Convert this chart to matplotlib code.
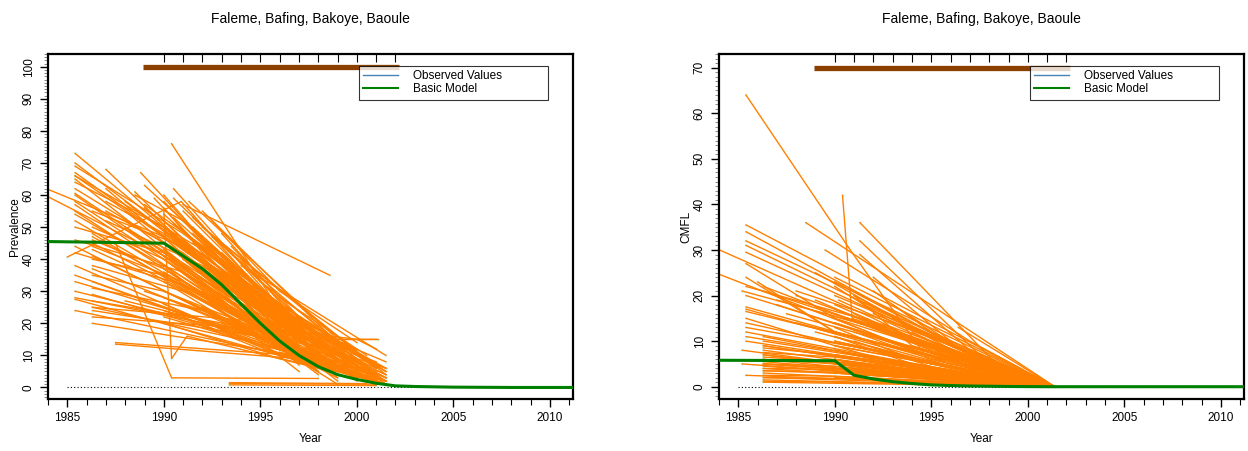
import matplotlib
matplotlib.use("Agg")
import matplotlib.pyplot as plt
from matplotlib.ticker import MultipleLocator, NullLocator

plt.rcParams['font.family'] = ['Liberation Sans', 'DejaVu Sans']

title = "Faleme, Bafing, Bakoye, Baoule"

# prevalence trajectories per village: (years, values)
prev_years = [
    [1983.5, 1990], [1983.5, 1991],
    [1985.4, 1995], [1985.4, 1996], [1985.4, 1994.5], [1985.4, 1997], [1985.4, 1996],
    [1985.4, 1993], [1985.4, 1998], [1985.4, 1996.5], [1985.4, 1997], [1985.4, 1995],
    [1985.4, 1999], [1985.0, 1990.9, 1998], [1985.4, 1997], [1985.4, 1996], [1985.4, 1999],
    [1985.4, 1999.5],
    [1986.3, 1998], [1986.3, 1996], [1986.3, 1997], [1986.3, 1994], [1986.3, 1999],
    [1986.3, 1998], [1986.3, 2000], [1986.3, 1999], [1986.3, 1997], [1986.3, 1998],
    [1986.3, 1999],
    [1987, 1995], [1987, 1996], [1987.5, 1990.4, 1998], [1987.5, 1998], [1987.5, 1999],
    [1988.8, 1996], [1988.5, 1997], [1989, 1995], [1989.5, 1996.5], [1988, 1998],
    [1990, 1997], [1990, 1999], [1990, 1990.4, 1991.2, 1998], [1990, 1996], [1990, 1998],
    [1990, 1997], [1990, 1999], [1990, 1996], [1990, 1998], [1990, 1997], [1990, 1999],
    [1990.4, 1996, 1998], [1990.5, 1997.5], [1990.5, 1999], [1991, 1998.6], [1991, 1996],
    [1991, 2000], [1991.3, 1999, 2001], [1991.5, 2000], [1991.5, 1998], [1991.5, 2001],
    [1992, 2000], [1992, 2001.5], [1992, 1999], [1992, 2000], [1992.5, 1999.5],
    [1993, 2001], [1993, 2001.5], [1993.5, 2000], [1994, 2001.5], [1994, 2001],
    [1993.4, 2001.5], [1993.4, 2001], [1993.4, 2000.5],
    [1995, 2001.5], [1995, 2000], [1996, 2001.5], [1998.5, 2001.1], [1996, 2000, 2001],
    [1996, 2001.5],
    [1986.3, 1996], [1986.3, 1997.5], [1985.4, 1998], [1985.4, 1999], [1988, 1997],
    [1990, 1995, 2000], [1990, 1994, 2001], [1991, 1995, 2001.5], [1991, 1997, 2001],
    [1992, 1996, 2001.5], [1990, 1993, 1997], [1989, 1993, 1998], [1990, 1996, 2001.5],
    [1990.5, 1994, 1999], [1991.5, 1995, 2000.5], [1992.5, 1997, 2001.5],
    [1993, 1997, 2001], [1994, 1998, 2001.5], [1990, 1992, 1996],
    [1985.4, 1990, 1997], [1985.4, 1990, 1998], [1985.4, 1990, 1999], [1985.4, 1990, 1996],
    [1985.4, 1991, 1998], [1985.4, 1991, 2000], [1986.3, 1990, 1997], [1986.3, 1990, 1998],
    [1986.3, 1991, 1999], [1986.3, 1990, 1996], [1986.3, 1991, 1997], [1986.3, 1990, 2000],
    [1986.3, 1992, 1998], [1987, 1991, 1997], [1987, 1992, 1999], [1988, 1991, 1998],
    [1988, 1992, 1997], [1989, 1992, 1999], [1990, 1993, 1998], [1990, 1994, 2000],
    [1990, 1993, 1997], [1990, 1994, 1999], [1990, 1992, 1998], [1990, 1993, 2001],
    [1990, 1995, 2000], [1990, 1994, 1998], [1990.5, 1994, 2001], [1990.5, 1995, 2001.5],
    [1990.5, 1993, 1999], [1991, 1994, 1999], [1991, 1995, 2000.5], [1991, 1993, 1998],
    [1991, 1996, 2001], [1991, 1994, 1998.5], [1991.5, 1995, 2000], [1991.5, 1994, 1999.5],
    [1991.5, 1996, 2001.5], [1992, 1995, 1999], [1992, 1996, 2000], [1992, 1995, 2001],
    [1992, 1997, 2001.5], [1992.5, 1996, 2000], [1992.5, 1995, 1998], [1993, 1996, 2000.5],
    [1993, 1997, 2001.5], [1993, 1996, 1999], [1993.5, 1997, 2001], [1994, 1997, 2000.5],
    [1994, 1997, 2001.5], [1994.5, 1998, 2001.5], [1995, 1998, 2001], [1995, 1998, 2001.5],
    [1995.5, 1998.5, 2001.5], [1996, 1999, 2001.5], [1996, 1999, 2001], [1997, 2000, 2001.5],
    [1997, 1999.5, 2001.5], [1990, 1996, 2001.5], [1990, 1995, 2001], [1990, 1994, 2000],
    [1989, 1994, 2001], [1988, 1994, 2000], [1986.3, 1994, 2001], [1985.4, 1993, 2000],
    [1990, 1996, 2001.5], [1991, 1997, 2001.5], [1992, 1998, 2001.5], [1993, 1998, 2001.5],
    [1994, 1999, 2001.5], [1995, 1999, 2001.5], [1996, 2000, 2001.5],
    [1985.4, 1991, 1997], [1985.4, 1990, 1995], [1986.3, 1991, 1996], [1987, 1990, 1995],
    [1988.5, 1991, 1996], [1985.4, 1992, 1998],
]
prev_values = [
    [63, 47], [61, 38],
    [73, 25], [70, 22], [67, 28], [66, 18], [65, 15],
    [60.5, 30], [60, 8], [57, 12], [55, 10], [52, 18],
    [44, 3], [40.7, 58, 10], [38, 8], [33, 14], [27.5, 5],
    [24, 6],
    [48, 5], [47, 15], [45, 12], [43, 22], [41, 4],
    [37, 9], [33, 3], [29, 7], [27, 16], [24, 13],
    [20, 8],
    [68, 22], [62, 16], [45, 3, 2.8], [14, 9.5], [13.5, 8],
    [67, 20], [61, 10], [63, 30], [59, 14], [55, 6],
    [60, 12], [58, 3], [55, 9, 16, 6], [52, 18], [50, 5],
    [47, 7], [45, 2], [43, 12], [40, 4], [38, 5], [35, 1],
    [76, 24, 8], [62, 15], [59, 10], [57, 35], [55, 25],
    [52, 5], [58, 15, 15], [50, 3], [48, 12], [45, 2],
    [55, 8], [50, 4], [42, 5], [38, 2], [47, 11],
    [45, 6], [40, 1], [35, 7], [38, 10], [30, 3],
    [1.2, 1.0], [0.8, 0.6], [1.5, 1.2],
    [30, 5], [25, 12], [22, 8], [15, 15], [18, 15, 12],
    [20, 3],
    [25, 20], [22, 17], [30, 11], [35, 6], [50, 9],
    [48, 25, 4], [42, 24, 2], [46, 28, 6], [40, 18, 3],
    [44, 26, 5], [50, 35, 15], [57, 40, 12], [36, 14, 1],
    [53, 34, 9], [46, 29, 7], [41, 20, 2],
    [39, 16, 4], [33, 13, 2], [56, 42, 20],
    [62, 45, 12], [58, 40, 8], [54, 38, 5], [50, 42, 18],
    [46, 36, 9], [42, 32, 4], [50, 40, 10], [46, 37, 7],
    [44, 33, 6], [40, 35, 16], [38, 30, 11], [35, 30, 3],
    [31, 24, 8], [55, 42, 14], [52, 38, 6], [58, 44, 10],
    [50, 35, 13], [56, 40, 8], [54, 38, 9], [49, 30, 5],
    [45, 33, 15], [41, 26, 7], [37, 29, 6], [33, 22, 2],
    [30, 18, 4], [28, 18, 8], [51, 34, 6], [46, 25, 3],
    [43, 31, 9], [49, 33, 11], [44, 27, 5], [40, 30, 12],
    [36, 18, 3], [32, 22, 10], [53, 33, 10], [42, 28, 8],
    [38, 20, 4], [46, 30, 12], [41, 24, 9], [35, 22, 6],
    [30, 14, 2], [52, 30, 14], [39, 27, 13], [48, 28, 10],
    [42, 20, 5], [36, 21, 10], [44, 22, 7], [40, 20, 9],
    [33, 17, 3], [36, 16, 6], [28, 14, 8], [24, 10, 2],
    [26, 12, 4], [18, 9, 3], [14, 7, 5], [12, 6, 2],
    [16, 10, 6], [26, 10, 1], [24, 12, 3], [22, 15, 5],
    [30, 20, 2], [27, 18, 6], [25, 15, 4], [28, 19, 7],
    [20, 9, 2], [22, 8, 1], [25, 7, 1], [20, 8, 2],
    [22, 6, 1], [18, 5, 2], [11, 4, 1],
    [69, 48, 20], [64, 50, 28], [55, 44, 24], [58, 48, 26],
    [60, 52, 25], [66, 43, 14],
]

# CMFL trajectories per village
cmfl_years = [
    [1983.5, 1992, 1998], [1983.5, 1996], [1985.4, 1990.8, 1995],
    [1985.4, 2001.4], [1985.4, 1998], [1985.4, 2001.4], [1985.4, 1999], [1985.4, 1997],
    [1985.2, 1993], [1985.4, 1996], [1985.4, 1999], [1985.4, 2001.4], [1985.4, 1995],
    [1985.4, 1998], [1985.4, 2001.4], [1985.2, 1996], [1985.2, 2001.4], [1985.4, 2001.4],
    [1986, 1990, 2001.4], [1986.3, 1995], [1986.3, 2001.4], [1986.3, 1996], [1986.3, 2001.4],
    [1986.3, 1999], [1986.3, 1997], [1986.3, 2001.4], [1986.3, 1998], [1986.3, 2001.4],
    [1986.3, 1996], [1986.3, 2001.4], [1986.3, 1999], [1986.3, 2001.4], [1986.3, 2001.4],
    [1986.3, 1998], [1986.3, 2001.4],
    [1987, 1997], [1987.5, 2001.4], [1988.5, 2001.4], [1988, 2000], [1988, 2001.4],
    [1989, 1999], [1990.4, 1990.9, 2001.4],
    [1990, 2001.4], [1990, 1998], [1990, 2001.4], [1990.2, 1997], [1990, 2001.4],
    [1990, 1999], [1990, 2001.4], [1990, 2000], [1990, 2001.4], [1990, 1998],
    [1990, 2001.4], [1990, 2001.4], [1990, 2000], [1990, 2001.4], [1990, 2001.4],
    [1990, 2001.4], [1990, 2001.4],
    [1991.3, 1999.5], [1991.3, 1998], [1991.3, 1997], [1991.5, 2001.4], [1991.5, 2000],
    [1992, 2001.4], [1992, 1999], [1992, 2001.4], [1993, 2001.4], [1993, 2000],
    [1994, 2001.4], [1994, 2001.4], [1995, 2001.4], [1996.4, 2001.4],
    [1989.5, 1997, 2001.4], [1986.3, 1991, 2001.4], [1985.4, 1992, 2001.4],
    [1990, 1995, 2001.4], [1990.5, 1996, 2001.4], [1991, 1994, 2001.4],
    [1986.3, 1990, 2001.4], [1986.3, 1990, 2001.4], [1986.3, 1990, 2001.4],
    [1990, 1993, 2001.4], [1990, 1992, 2001.4], [1991, 1996, 2001.4],
    [1985.4, 1990, 2001.4], [1985.4, 1990, 2001.4], [1985.4, 1990, 2001.4],
    [1985.4, 1990, 2001.4],
    [1986.3, 1990, 2001.4], [1986.3, 1990, 2001.4], [1986.3, 1990, 2001.4],
    [1986.3, 1990, 2001.4], [1986.3, 1990, 2001.4], [1986.3, 1990, 2001.4],
    [1986.3, 1990, 2001.4], [1986.3, 1990, 2001.4], [1986.3, 1990, 2001.4],
    [1986.3, 1990, 2001.4],
    [1990, 1994, 2001.4], [1990, 1994, 2001.4], [1990, 1994, 2001.4], [1990, 1994, 2001.4],
    [1990, 1994, 2001.4], [1990, 1994, 2001.4], [1990, 1994, 2001.4], [1990, 1994, 2001.4],
    [1990, 1996, 2001.4], [1990, 1996, 2001.4], [1990, 1996, 2001.4], [1990, 1996, 2001.4],
    [1990, 1996, 2001.4],
    [1991, 1995, 2001.4], [1991, 1995, 2001.4], [1991, 1995, 2001.4],
    [1990, 1993, 2001.4], [1990, 1993, 2001.4], [1989, 1994, 2001.4], [1989, 1994, 2001.4],
    [1988, 1993, 2001.4], [1987, 1992, 2001.4], [1985.4, 1993, 2001.4], [1985.4, 1993, 2001.4],
    [1992, 1996, 2001.4], [1992, 1996, 2001.4], [1993, 1997, 2001.4], [1993, 1997, 2001.4],
    [1994, 1998, 2001.4], [1994, 1998, 2001.4], [1995, 1998, 2001.4],
]
cmfl_values = [
    [31, 15, 2], [25.5, 5], [64, 30, 5],
    [35.5, 0], [34, 5], [32, 0], [31, 3], [29.5, 7],
    [21, 12], [17.5, 5], [17, 1], [16.5, 0], [14, 5],
    [12, 2], [11, 0], [8, 2], [5, 0], [2.5, 0],
    [23, 12, 0], [22, 8], [21, 0], [11, 3], [10, 0],
    [9, 1], [8, 2], [7, 0], [6, 1], [5.5, 0],
    [5, 2], [4.5, 0], [4, 0.5], [3, 0], [2, 0],
    [1.5, 0.3], [1, 0],
    [18, 4], [16, 0], [36, 0], [20, 2], [14, 0],
    [12, 1], [42, 15, 0],
    [24, 0], [23, 5], [20, 0], [19, 6], [16, 0],
    [14, 2], [12, 0], [10, 1], [9, 0], [8, 2],
    [7, 0], [6, 0], [5, 0.5], [4, 0], [3, 0],
    [2, 0], [1, 0],
    [36, 0], [32, 5], [29, 8], [18.5, 0], [18, 2],
    [16, 0], [14, 3], [11, 0], [12, 0], [9, 1],
    [10, 0], [8, 0], [6, 0], [13, 0],
    [30, 10, 0], [9, 6, 0], [13, 8, 0],
    [11, 5, 0], [15, 7, 0], [20, 9, 0],
    [7, 5, 0], [5, 4, 0], [3.5, 3, 0],
    [8, 5, 0], [6, 4, 0], [10, 3, 0],
    [27, 15, 0], [24, 12, 0], [15, 9, 0],
    [10, 7, 0],
    [8.5, 7, 0], [7.5, 6.5, 0], [6.5, 5.5, 0],
    [6, 5, 0], [5, 4.5, 0], [4, 3.8, 0],
    [3.5, 3.2, 0], [2.5, 2.3, 0], [2, 1.8, 0],
    [1.2, 1, 0],
    [15, 8, 0], [13, 6, 0], [11, 5, 0], [9, 4, 0],
    [7, 3.5, 0], [6, 3, 0], [5, 2.5, 0], [4, 2, 0],
    [18, 7, 0], [14, 5, 0], [10, 4, 0], [8, 3, 0],
    [6, 2, 0],
    [20, 11, 0], [16, 8, 0], [12, 6, 0],
    [22, 14, 0], [17, 12, 0], [25, 13, 0], [19, 10, 0],
    [21, 14, 0], [19, 13, 0], [20, 10, 0], [22, 13, 0],
    [24, 10, 0], [21, 9, 0], [18, 7, 0], [15, 6, 0],
    [14, 6, 0], [12, 4, 0], [10, 5, 0],
]

# basic model
model_years = [1984, 1990, 1991, 1992, 1993, 1994, 1995, 1996, 1997, 1998, 1999,
               2000, 2001, 2002, 2003, 2005, 2008, 2011.2]
prev_model = [45.5, 45, 41, 37, 32, 26, 20, 14.5, 10, 6.5, 4, 2.5, 1.3, 0.5, 0.3, 0.1, 0, 0]
cmfl_model = [5.8, 5.7, 2.5, 1.7, 1.1, 0.7, 0.4, 0.25, 0.15, 0.1, 0.05, 0.02, 0, 0, 0, 0, 0, 0]

treat_years = [1988.9, 2002.2]
top_ticks = list(range(1990, 2003))

fig = plt.figure(figsize=(12.48, 4.51), dpi=100)
ax1 = fig.add_axes([0.0385, 0.1153, 0.4207, 0.765])
ax2 = fig.add_axes([0.5761, 0.1153, 0.4207, 0.765])

panels = [
    (ax1, prev_years, prev_values, prev_model, "Prevalence", (-3.6, 104), 100),
    (ax2, cmfl_years, cmfl_values, cmfl_model, "CMFL", (-2.7, 73), 70),
]

for ax, yrs, vals, model, ylab, ylim, bar_y in panels:
    # observed points (faint), under the trajectories
    for xs, ys in zip(yrs, vals):
        ax.plot(xs, ys, 'o', ms=2, color='#ccffff', mec='none', zorder=1.5)
    for xs, ys in zip(yrs, vals):
        ax.plot(xs, ys, color='#ff8000', lw=1.0, zorder=2)
    ax.plot([1985, 2011.2], [0, 0], color='black', ls=(0, (1, 2)), lw=0.8, zorder=1)
    ax.plot(model_years, model, color='#008000', lw=2.2, zorder=4)
    ax.plot(treat_years, [bar_y, bar_y], color='#8b4000', lw=3.8,
            solid_capstyle='butt', zorder=4)

    # legend proxies
    ax.plot([], [], color='#4682b4', lw=1, label='Observed Values')
    ax.plot([], [], color='#008000', lw=1.5, label='Basic Model')
    leg = ax.legend(loc='upper left', bbox_to_anchor=(0.592, 0.875, 0.36, 0.09),
                    mode='expand', fontsize=8.5, frameon=True, fancybox=False,
                    handlelength=3, borderpad=0.35, labelspacing=0.1,
                    handletextpad=1.2, borderaxespad=0)
    leg.get_frame().set_edgecolor('black')
    leg.get_frame().set_linewidth(0.8)
    leg.set_zorder(5)

    ax.set_xlim(1984, 2011.2)
    ax.set_ylim(*ylim)
    ax.xaxis.set_major_locator(MultipleLocator(5))
    ax.xaxis.set_minor_locator(MultipleLocator(1))
    ax.yaxis.set_major_locator(MultipleLocator(10))
    ax.yaxis.set_minor_locator(MultipleLocator(1))
    ax.tick_params(axis='both', which='major', direction='out', length=6, width=1,
                   labelsize=8.5)
    ax.tick_params(axis='x', which='minor', direction='out', length=4, width=0.8)
    ax.tick_params(axis='y', which='minor', direction='out', length=3, width=0.6,
                   color='#777777')
    for lbl in ax.get_yticklabels():
        lbl.set_rotation(90)
        lbl.set_va('center')
    for s in ax.spines.values():
        s.set_linewidth(1.6)

    top = ax.twiny()
    top.set_xlim(ax.get_xlim())
    top.set_xticks(top_ticks)
    top.xaxis.set_minor_locator(NullLocator())
    top.tick_params(direction='in', length=6, width=0.8, labeltop=False)
    for s in top.spines.values():
        s.set_visible(False)

    ax.set_xlabel("Year", fontsize=8.5, labelpad=6)
    ax.set_ylabel(ylab, fontsize=8.5, labelpad=1)
    ax.set_title(title, fontsize=10, pad=22)

fig.savefig("out.png", dpi=100)
